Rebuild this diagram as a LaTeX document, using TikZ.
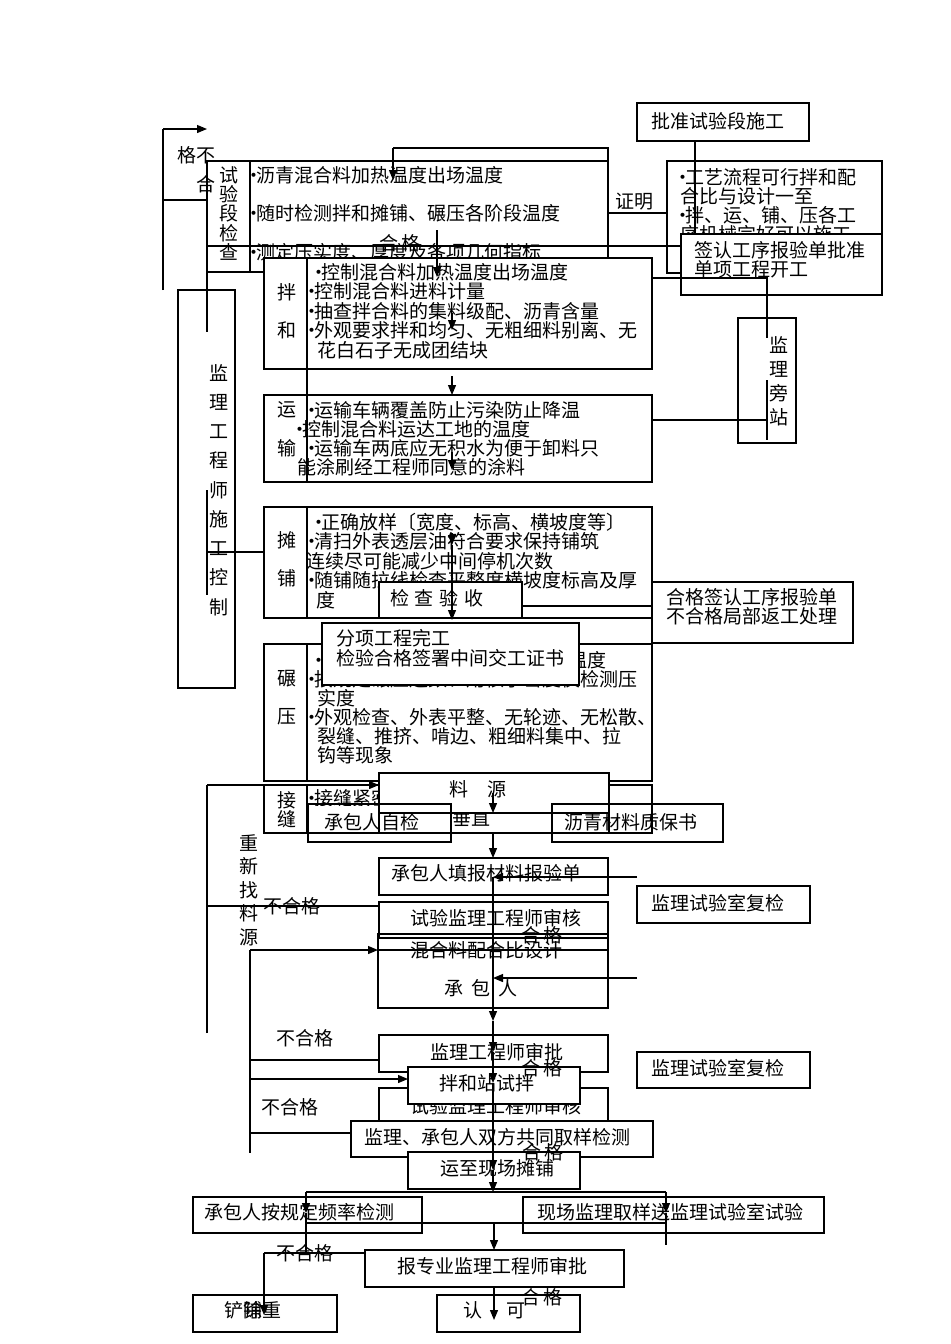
\documentclass[tikz,border=0pt]{standalone}
\usepackage{fontspec}
\setmainfont{Noto Sans CJK SC}
\usetikzlibrary{arrows.meta}
\newcommand\myfs{\fontsize{9.5}{9.75}\selectfont}
\newcommand\dt{\makebox[2.5pt][c]{·}}
\begin{document}
\begin{tikzpicture}[x=0.5pt,y=-0.5pt,
  ln/.style={line width=0.6pt},
  bx/.style={draw,line width=0.6pt},
  wbx/.style={draw,fill=white,line width=0.6pt},
  tx/.style={inner sep=0pt,outer sep=0pt,font=\myfs,anchor=west,align=left},
  ct/.style={inner sep=0pt,outer sep=0pt,font=\myfs,anchor=center,align=center},
  ar/.style={line width=0.6pt,-{Triangle[length=5pt,width=4pt]}}]
\useasboundingbox (0,0) rectangle (950,1344);

% top-left loop
\draw[ln] (163,290) -- (163,129);
\draw[ar] (163,129) -- (207,129);
\draw[ln] (163,200) -- (207,200);
\node[ct] (bhg1) at (196,155) {格不};

% approval box
\draw[bx] (637,103) rectangle (809,141);
\node[tx] (pz) at (651,121) {批准试验段施工};

% trial section check
\draw[bx] (207,161) rectangle (608,272);
\draw[ln] (250,161) -- (250,272);
\node[ct,font={\fontsize{9.5}{9.625}\selectfont}] (sy) at (229,213.5) {试\\验\\段\\检\\查};
\node[tx,font={\fontsize{9.5}{19.25}\selectfont}] (syt) at (251,213.5) {\dt 沥青混合料加热温度出场温度\\\dt 随时检测拌和摊铺、碾压各阶段温度\\\dt 测定压实度、厚度及各项几何指标};
\node[ct] (bhg2) at (206,184) {合};

% process box
\draw[bx] (667,161) rectangle (882,273);
\node[tx,font={\fontsize{9.5}{9.5}\selectfont}] (gy) at (680,205.5) {\dt 工艺流程可行拌和配\\合比与设计一至\\\dt 拌、运、铺、压各工\\序机械完好可以施工};

\draw[ln] (695,141) -- (695,234);
\draw[ln] (393,148) -- (608,148) -- (608,161);
\draw[ar] (393,148) -- (393,180);
\draw[ln] (608,213) -- (667,213);
\node[ct] (zm) at (634,202) {证明};
\draw[ln] (207,246) -- (681,246);
\node[ct] (hg0) at (400,243) {合\hspace{2pt}格};

% sign box
\draw[wbx] (681,234) rectangle (882,295);
\node[tx,font={\fontsize{9.5}{9.5}\selectfont}] (qr) at (694,259.5) {签认工序报验单批准\\单项工程开工};

% supervisor on site
\draw[ln] (652,278) -- (767,278) -- (767,338);
\draw[bx] (738,318) rectangle (796,443);
\draw[ln] (767,380) -- (767,440);
\draw[ln] (652,420) -- (767,420);
\node[ct,font={\fontsize{9.5}{12}\selectfont}] (jlpz) at (779,381.5) {监\\理\\旁\\站};

% supervisor control
\draw[bx] (178,290) rectangle (235,688);
\node[ct,font={\fontsize{9.5}{14.625}\selectfont}] (jlgc) at (219,490) {监\\理\\工\\程\\师\\施\\工\\控\\制};
\draw[ln] (207,272) -- (207,332);
\draw[ln] (207,490) -- (207,595);
\draw[ln] (207,552) -- (264,552);

% mixing
\draw[wbx] (264,258) rectangle (652,369);
\draw[ln] (307,258) -- (307,482);
\node[ct] (bh1) at (287,292) {拌};
\node[ct] (bh2) at (287,330) {和};
\node[tx] (bht) at (309,311) {\hspace*{3.5pt}\dt 控制混合料加热温度出场温度\\\dt 控制混合料进料计量\\\dt 抽查拌合料的集料级配、沥青含量\\\dt 外观要求拌和均匀、无粗细料别离、无\\\hspace*{4pt}花白石子无成团结块};
\draw[ar] (437,230) -- (437,277);
\draw[ar] (452,313) -- (452,330);
\draw[ar] (452,376) -- (452,395);

% transport
\draw[bx] (264,395) rectangle (652,482);
\node[ct] (ys1) at (287,410) {运};
\node[ct] (ys2) at (287,448) {输};
\node[tx,font={\fontsize{9.5}{9.5}\selectfont}] (yst) at (297,438.5) {\hspace*{6pt}\dt 运输车辆覆盖防止污染防止降温\\\dt 控制混合料运达工地的温度\\\hspace*{6pt}\dt 运输车两底应无积水为便于卸料只\\能涂刷经工程师同意的涂料};
\draw[ar] (452,452) -- (452,470);

% paving
\draw[bx] (264,507) rectangle (652,618);
\draw[ln] (307,507) -- (307,618);
\node[ct] (tp1) at (287,540) {摊};
\node[ct] (tp2) at (287,578) {铺};
\node[tx] (tpt) at (306,561) {\hspace*{5pt}\dt 正确放样〔宽度、标高、横坡度等〕\\\hspace*{1.5pt}\dt 清扫外表透层油符合要求保持铺筑\\连续尽可能减少中间停机次数\\\hspace*{1.5pt}\dt 随铺随拉线检查平整度横坡度标高及厚\\\hspace*{5pt}度};

\draw[wbx] (379,582) rectangle (522,618);
\node[ct] (jcys) at (437,598) {检\hspace{3pt}查\hspace{3pt}验\hspace{3pt}收};
\draw[ln] (522,606) -- (652,606);
\draw[ar] (452,533) -- (452,545);
\draw[ar] (452,545) -- (452,620);

\draw[bx] (652,582) rectangle (853,643);
\node[tx,font={\fontsize{9.5}{9.5}\selectfont}] (hgqr) at (666,606.5) {合格签认工序报验单\\不合格局部返工处理};

% rolling
\draw[bx] (264,644) rectangle (652,781);
\draw[ln] (307,644) -- (307,781);
\node[ct] (ny1) at (287,679) {碾};
\node[ct] (ny2) at (287,717) {压};
\node[tx,font={\fontsize{9.5}{9.5}\selectfont}] (nyt) at (309,707.5) {\hspace*{3.5pt}\dt 控制混合料初压、复压、终压温度\\\dt 按规定碾压遍数、用核子密度仪检测压\\\hspace*{4pt}实度\\\dt 外观检查、外表平整、无轮迹、无松散、\\\hspace*{4pt}裂缝、推挤、啃边、粗细料集中、拉\\\hspace*{4pt}钩等现象};

\draw[wbx] (322,623) rectangle (579,685);
\node[tx,font={\fontsize{9.5}{10}\selectfont}] (fx) at (336,648) {分项工程完工\\检验合格签署中间交工证书};

% joints
\draw[bx] (264,785) rectangle (652,833);
\draw[ln] (307,785) -- (307,833);
\node[ct] (jf1) at (287,800) {接};
\node[ct] (jf2) at (287,819) {缝};
\begin{scope}
\clip (307,785) rectangle (379,805);
\node[tx] (jft) at (309,798) {\dt 接缝紧密平顺};
\end{scope}
\node[ct] (cz) at (471,818) {垂直};

\draw[ln] (207,1033) -- (207,785);
\draw[ar] (207,785) -- (379,785);

% material source
\draw[wbx] (379,773) rectangle (609,813);
\node[ct] (ly) at (478,789) {料\hspace{10pt}源};
\draw[bx] (379,813) rectangle (609,833);
\draw[bx] (308,804) rectangle (451,842);
\node[ct] (cbzj) at (372,822) {承包人自检};
\draw[bx] (552,804) rectangle (723,842);
\node[ct] (lq) at (631,822) {沥青材料质保书};
\draw[ar] (493,793) -- (493,813);
\draw[ar] (493,833) -- (493,858);

\node[ct,font={\fontsize{9.5}{11.75}\selectfont}] (cx) at (249,890) {重\\新\\找\\料\\源};
\draw[ln] (207,906) -- (379,906);
\node[ct] (bhg3) at (292,906) {不合格};

\draw[bx] (379,858) rectangle (608,895);
\node[ct] (tb) at (486,873) {承包人填报材料报验单};
\draw[bx] (379,902) rectangle (608,938);
\node[ct] (sh1) at (496,918) {试验监理工程师审核};
\draw[bx] (378,934) rectangle (608,1008);
\node[ct] (hhl) at (486,950) {混合料配合比设计};
\node[ct] (cbr) at (481,988) {承\hspace{4pt}包\hspace{4pt}人};
\draw[ar] (250,950) -- (378,950);
\draw[ln] (378,950) -- (608,950);
\draw[ln] (250,950) -- (250,1153);
\draw[ar] (637,877) -- (493,877);
\draw[ar] (637,978) -- (493,978);

\draw[bx] (637,886) rectangle (810,923);
\node[tx] (fj1) at (651,903) {监理试验室复检};
\draw[bx] (637,1052) rectangle (810,1088);
\node[tx] (fj2) at (651,1068) {监理试验室复检};

\draw[bx] (379,1035) rectangle (608,1072);
\node[ct] (sp) at (497,1052) {监理工程师审批};
\draw[ln] (250,1060) -- (379,1060);
\node[ct] (bhg4) at (305,1038) {不合格};
\draw[bx] (379,1088) rectangle (608,1125);
\node[ct] (sh2) at (496,1106) {试验监理工程师审核};
\draw[wbx] (408,1067) rectangle (580,1104);
\node[ct] (bhz) at (487,1083) {拌和站试拌};
\draw[ar] (250,1079) -- (408,1079);
\node[ct] (bhg5) at (290,1107) {不合格};
\draw[ln] (250,1133) -- (351,1133);
\draw[wbx] (351,1121) rectangle (653,1157);
\node[ct] (qy) at (497,1137) {监理、承包人双方共同取样检测};
\draw[wbx] (408,1152) rectangle (580,1189);
\node[ct] (yz) at (497,1168) {运至现场摊铺};

\draw[ar] (493,877) -- (493,1021);
\draw[ar] (493,1021) -- (493,1052);
\draw[ar] (493,1052) -- (493,1083);
\draw[ar] (493,1083) -- (493,1170);
\draw[ar] (493,1170) -- (493,1192);

\node[ct] (hg1) at (542,935) {合\hspace{2pt}格};
\node[ct] (hg2) at (542,1068) {合\hspace{2pt}格};
\node[ct] (hg3) at (543,1152) {合\hspace{2pt}格};

% bottom
\draw[ln] (306,1192) -- (666,1192);
\draw[ar] (306,1192) -- (306,1213);
\draw[ar] (666,1192) -- (666,1213);
\draw[bx] (193,1197) rectangle (422,1233);
\node[ct] (gd) at (299,1212) {承包人按规定频率检测};
\draw[bx] (523,1197) rectangle (824,1233);
\node[ct] (xc) at (670,1212) {现场监理取样送监理试验室试验};
\draw[ln] (306,1213) -- (306,1253);
\draw[ln] (666,1213) -- (666,1245);
\draw[ln] (306,1223) -- (666,1223);
\draw[ar] (494,1223) -- (494,1250);
\draw[bx] (365,1250) rectangle (624,1287);
\node[ct] (bzy) at (492,1266) {报专业监理工程师审批};
\draw[ln] (365,1253) -- (264,1253);
\draw[ar] (264,1253) -- (264,1315);
\node[ct] (bhg6) at (305,1253) {不合格};
\draw[ar] (494,1287) -- (494,1320);
\draw[bx] (193,1295) rectangle (337,1332);
\node[ct] (cc) at (252.5,1310) {铲除重};
\node[ct] (cp) at (252.5,1310) {铺};
\draw[bx] (437,1295) rectangle (580,1332);
\node[ct] (rk) at (494,1310) {认\hspace{12pt}可};
\node[ct] (hg4) at (542,1297) {合\hspace{2pt}格};
\end{tikzpicture}
\end{document}
